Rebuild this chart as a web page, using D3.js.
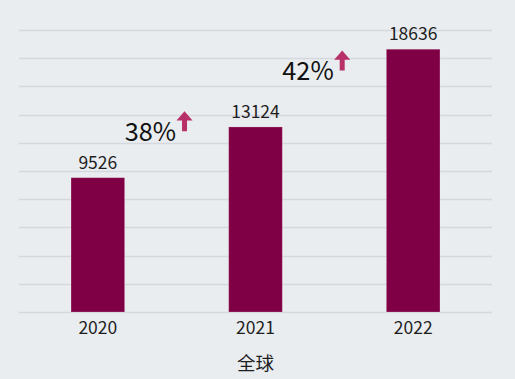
<!DOCTYPE html>
<html><head><meta charset="utf-8">
<script src="https://cdn.jsdelivr.net/npm/d3@7"></script>
<style>
html,body{margin:0;padding:0;background:#e9edf0;}
svg{display:block;font-family:"Noto Sans CJK SC","Noto Sans",sans-serif;}
</style></head><body>
<svg id="c" width="515" height="379"></svg>
<script>
const categories = ["2020","2021","2022"];
const values = [9526, 13124, 18636];
const growthLabels = ["38%","42%"];
const growthLevels = [12150, 16450];
const yTicks = [0,2000,4000,6000,8000,10000,12000,14000,16000,18000,20000];
const xTitle = "全球";

const W=515,H=379, m={l:19,r:23,t:30,b:67};
const svg=d3.select("#c");
svg.append("rect").attr("width",W).attr("height",H).attr("fill","#e9edf0");
const x=d3.scaleBand().domain(categories).range([m.l,W-m.r]).paddingInner(0.66).paddingOuter(0.33);
const y=d3.scaleLinear().domain([0,20000]).range([H-m.b,m.t]);

svg.append("g").selectAll("line").data(yTicks).join("line")
  .attr("x1",m.l).attr("x2",W-m.r)
  .attr("y1",d=>Math.round(y(d))+0.5).attr("y2",d=>Math.round(y(d))+0.5)
  .attr("stroke","#d5d8dc").attr("stroke-width",1.3);

svg.append("g").selectAll("rect").data(values).join("rect")
  .attr("x",(d,i)=>x(categories[i])).attr("width",x.bandwidth())
  .attr("y",d=>y(d)).attr("height",d=>y(0)-y(d))
  .attr("fill","#7f0044").attr("stroke","#ffffff").attr("stroke-opacity",0.25).attr("stroke-width",0.8);

svg.append("g").selectAll("text").data(values).join("text")
  .attr("x",(d,i)=>x(categories[i])+x.bandwidth()/2).attr("y",d=>y(d)-9)
  .attr("text-anchor","middle").attr("font-size",17.5).attr("fill","#1e1e1e").text(d=>d);

const xa=svg.append("g").attr("transform",`translate(0,${y(0)})`)
  .call(d3.axisBottom(x).tickSize(0).tickPadding(0));
xa.select(".domain").remove();
xa.selectAll("text").attr("font-size",17.5).attr("fill","#1e1e1e").attr("dy",null).attr("y",22)
  .attr("font-family","Noto Sans CJK SC");

svg.append("text").attr("x",(m.l+W-m.r)/2).attr("y",370).attr("text-anchor","middle")
  .attr("font-size",18.5).attr("fill","#1e1e1e").text(xTitle);

growthLabels.forEach((g,i)=>{
  const x0=x(categories[i])+x.bandwidth();
  const by=y(growthLevels[i]);
  const t=svg.append("text").attr("x",x0).attr("y",by).attr("text-anchor","start")
    .attr("font-size",25.3).attr("fill","#111").text(g);
  const tw=t.node().getComputedTextLength();
  const ax=x0+tw+8.5, top=by-29.5;
  const p=d3.path();
  p.moveTo(ax,top); p.lineTo(ax+8,top+9.3); p.lineTo(ax+2.5,top+9.3); p.lineTo(ax+2.5,top+20);
  p.lineTo(ax-2.5,top+20); p.lineTo(ax-2.5,top+9.3); p.lineTo(ax-8,top+9.3); p.closePath();
  svg.append("path").attr("d",p.toString()).attr("fill","#b83068");
});
</script></body></html>
